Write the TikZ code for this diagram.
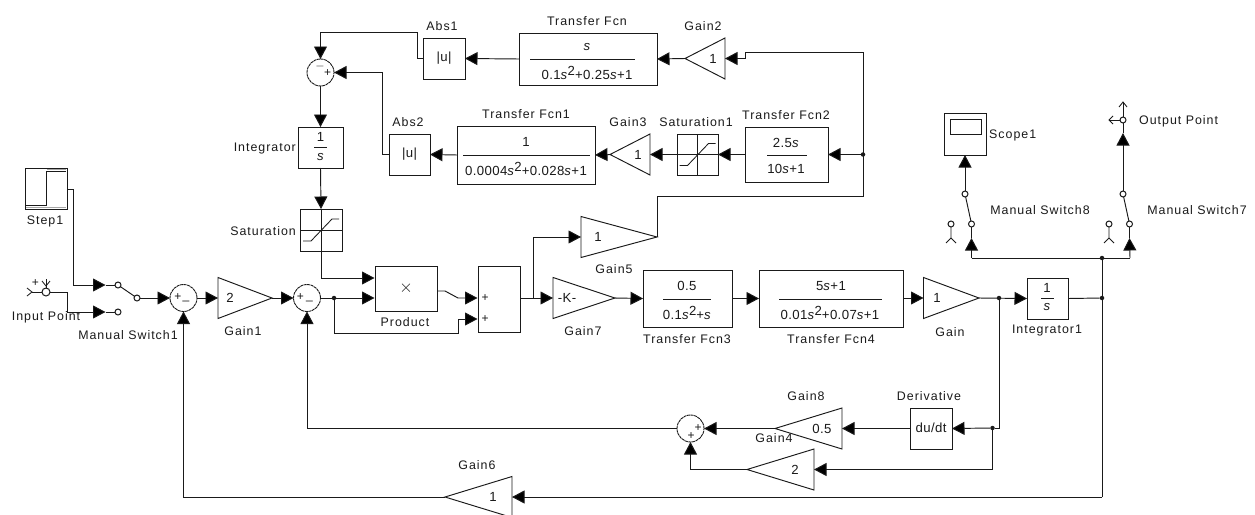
\documentclass[tikz,border=0pt]{standalone}
\usepackage{fontspec}
\setmainfont[LetterSpace=8]{Liberation Sans}
\newfontfamily\numfont[LetterSpace=3]{Liberation Sans}
\usetikzlibrary{arrows.meta}
\definecolor{ink}{HTML}{1A1A1A}
\newcommand{\sq}{\textit{s}\raisebox{3.5pt}{2}}
\newcommand{\esse}{\textit{s}}
\tikzset{
  wire/.style={draw=ink,line width=0.95pt},
  arr/.style={wire,-{Triangle[length=12.5pt,width=13pt,fill=black]}},
  edge/.style={draw=ink,line width=0.95pt,line join=miter},
  thin edge/.style={draw=ink,line width=0.85pt},
  block/.style={rectangle,edge,inner sep=0pt,outer sep=0pt,text=ink,font=\fontsize{12}{14}\selectfont},
  sumb/.style={circle,draw=ink,line width=0.9pt,dash pattern=on 3pt off 0.6pt,inner sep=0pt,outer sep=0pt,minimum size=27pt},
  port/.style={circle,draw=ink,line width=1pt,inner sep=0pt,outer sep=0pt,minimum size=6pt,fill=white},
  junction/.style={circle,fill=ink,inner sep=0pt,minimum size=4.5pt},
  lbl/.style={inner sep=0pt,text=ink,font=\fontsize{12.4}{14}\selectfont},
  num/.style={inner sep=0pt,text=ink,font=\numfont\fontsize{13.2}{14}\selectfont},
  sign/.style={inner sep=0pt,text=ink,font=\fontsize{12}{12}\selectfont},
}
% name, apex x, y, back x, half height, text x, text
\newcommand{\gainshape}[7]{%
  \draw[edge] (#2,#3) -- ({#4},{#3-#5}) -- ({#4},{#3+#5}) -- cycle;
  \coordinate (#1-a) at (#2,#3);
  \coordinate (#1-b) at (#4,#3);
  \node[num] (#1) at (#6,#3) {#7};}
\newcommand{\satgraphic}[2]{%
  \draw[thin edge] (#1,#2-20.5) -- (#1,#2+20.5);
  \draw[thin edge] (#1-20.5,#2) -- (#1+20.5,#2);
  \draw[thin edge] (#1-18,#2+11) -- (#1-10,#2+11) -- (#1+11,#2-11) -- (#1+18,#2-11);}
\begin{document}
\begin{tikzpicture}[x=1pt,y=-1pt]
\useasboundingbox (0,0) rectangle (1255,514);
\clip (0,0) rectangle (1255,514);
\fill[white] (0,0) rectangle (1255,514);

% ---- Step source
\node[block,minimum width=42pt,minimum height=41pt] (step) at (46,188.5) {};
\draw[edge] (26,205) -- (46,205) -- (46,171) -- (66,171);
\draw[draw=gray!70,line width=0.9pt] (47,169.5) -- (66,169.5);
\draw[draw=gray!70,line width=0.9pt] (26,207.5) -- (66,207.5);
\node[lbl] (lstep) at (45,221) {Step1};

% ---- Input point
\node[port,minimum size=8pt] (inp) at (46,292) {};
\draw[thin edge] (27,288) -- (32,292) -- (27,296);
\draw[thin edge] (32,292) -- (inp);
\draw[thin edge] (46,279) -- (inp);
\draw[thin edge] (42,281) -- (46,286) -- (50,281);
\node[sign] (inpplus) at (35.5,283) {+};
\node[lbl] (linp) at (46,317) {Input Point};

% ---- Manual switch 1
\node[port] (swa) at (118,285) {};
\node[port] (swb) at (118,312) {};
\node[port] (swc) at (137,298) {};
\draw[wire] (swa) -- (swc);
\coordinate (swat) at (105.5,285);
\coordinate (swbt) at (105.5,312);
\coordinate (st1) at (73.5,189);
\coordinate (st2) at (73.5,285);
\coordinate (in1) at (67,292);
\coordinate (in2) at (67,312);
\draw[arr] (67,189) -- (st1) -- (st2) -- (swat);
\draw[wire] (swat) -- (swa);
\draw[arr] (inp) -- (in1) -- (in2) -- (swbt);
\draw[wire] (swbt) -- (swb);
\node[lbl] (lsw1) at (128,335) {Manual Switch1};

% ---- Main forward path
\node[sumb] (s1) at (183.5,298) {};
\node[sign] at (178,297) {+};
\node[sign] at (186,301) {\_};
\node[sumb] (s2) at (307,298) {};
\node[sign] at (300.5,297) {+};
\node[sign] at (309.5,301) {\_};
\gainshape{g1}{272}{298}{218}{20.5}{230}{2}
\node[lbl] (lg1) at (243,331) {Gain1};
\draw[arr] (swc) -- (s1.west);
\draw[arr] (s1.east) -- (g1-b);
\draw[arr] (g1-a) -- (s2.west);

\node[block,minimum width=62pt,minimum height=45pt] (prod) at (406,288.5) {};
\node[num,font=\fontsize{16}{16}\selectfont] (x) at (406,288) {$\times$};
\node[lbl] (lprod) at (405,322) {Product};

\node[block,minimum width=42pt,minimum height=66pt] (add) at (499,299) {};
\node[sign] at (485,298) {+};
\node[sign] at (485,319) {+};

\node[junction] (j1) at (334,298) {};
\coordinate (p1) at (374.5,298);
\coordinate (p2) at (374.5,278);
\draw[arr] (s2.east) -- (p1);
\coordinate (a2) at (477.5,298);
\coordinate (a3) at (477.5,319);
\coordinate (m1) at (445,291);
\coordinate (m2) at (458,298);
\draw[arr] (437,291) -- (m1) -- (m2) -- (a2);
\coordinate (b1) at (334,333);
\coordinate (b2) at (458,333);
\coordinate (b3) at (458,319);
\draw[arr] (j1) -- (b1) -- (b2) -- (b3) -- (a3);

\gainshape{g7}{615}{298}{553}{20.5}{567}{-K-}
\node[lbl] (lg7) at (583,331) {Gain7};
\draw[arr] (520,298) -- (g7-b);
\gainshape{g5}{657}{237}{581}{20.5}{598}{1}
\node[lbl] (lg5) at (614,269) {Gain5};
\coordinate (v1) at (533,298);
\coordinate (v2) at (533,237);
\draw[arr] (v1) -- (v2) -- (g5-b);

\node[block,minimum width=89pt,minimum height=57pt] (tf3) at (687.5,298.5) {};
\node[num] (tf3n) at (687,286) {0.5};
\node[num] (tf3d) at (687,313) {0.1\sq+\esse};
\draw[thin edge] (663,299) -- (711,299);
\node[lbl] (ltf3) at (687,339) {Transfer Fcn3};
\draw[arr] (g7-a) -- (tf3.west);

\node[block,minimum width=144pt,minimum height=57pt] (tf4) at (831,298.5) {};
\node[num] (tf4n) at (831,286) {5\esse+1};
\node[num] (tf4d) at (830,313) {0.01\sq+0.07\esse+1};
\draw[thin edge] (779,299) -- (882,299);
\node[lbl] (ltf4) at (831,339) {Transfer Fcn4};
\draw[arr] (tf3.east) -- (tf4.west);

\gainshape{g}{979}{298}{923.5}{20.5}{937}{1}
\node[lbl] (lg) at (950,332) {Gain};
\draw[arr] (903,298) -- (g-b);

\node[block,minimum width=41pt,minimum height=41pt] (int1) at (1047.5,298.5) {};
\node[num] (int1n) at (1047,288) {1};
\node[num] (int1d) at (1047,307.5) {\esse};
\draw[thin edge] (1041,298) -- (1054,298);
\node[lbl] (lint1) at (1047,331) {Integrator1};
\draw[arr] (g-a) -- (int1.west);
\node[junction] (j5) at (999,298) {};

\node[junction] (j6) at (1102,298) {};
\node[junction] (j7) at (1102,258) {};
\coordinate (fb) at (1102,497);
\draw[wire] (int1.east) -- (j6);
\draw[wire] (j7) -- (fb);

% ---- Scope and output switches
\coordinate (t8) at (971.5,258);
\coordinate (t7) at (1130,258);
\draw[wire] (t8) -- (t7);
\node[port] (sw8a) at (971.5,224) {};
\node[port] (sw8c) at (965,194) {};
\node[port] (sw8p) at (951,224) {};
\node[port] (sw7a) at (1129.5,224) {};
\node[port] (sw7c) at (1123,194) {};
\node[port] (sw7p) at (1109,224) {};
\draw[wire] (sw8a) -- (sw8c);
\draw[wire] (sw7a) -- (sw7c);
\coordinate (t8t) at (971.5,238);
\coordinate (t7t) at (1129.5,238);
\draw[arr] (t8) -- (t8t);
\draw[wire] (t8t) -- (sw8a);
\draw[arr] (t7) -- (t7t);
\draw[wire] (t7t) -- (sw7a);
\draw[thin edge] (sw8p) -- (951,238) -- (946,243);
\draw[thin edge] (951,238) -- (956,243);
\draw[thin edge] (sw7p) -- (1109,238) -- (1104,243);
\draw[thin edge] (1109,238) -- (1114,243);
\node[lbl] (lsw8) at (1040,210) {Manual Switch8};
\node[lbl] (lsw7) at (1197,210) {Manual Switch7};

\node[block,minimum width=42pt,minimum height=42pt] (scope) at (965,134) {};
\draw[edge] (950,119) rectangle (981,134);
\node[lbl,anchor=west] (lscope) at (989,135) {Scope1};
\draw[arr] (sw8c) -- (scope.south);

\node[port] (op) at (1123,120) {};
\coordinate (opt) at (1123,133);
\draw[arr] (sw7c) -- (opt);
\draw[wire] (opt) -- (op);
\draw[thin edge] (op) -- (1123,103);
\draw[thin edge] (1119,107) -- (1123,102) -- (1127,107);
\draw[thin edge] (op) -- (1109,120);
\draw[thin edge] (1113,116) -- (1109,120) -- (1113,124);
\node[lbl,anchor=west] (lop) at (1139,121) {Output Point};

% ---- Feedback path
\node[block,minimum width=42pt,minimum height=41pt] (der) at (931,428.5) {};
\node[num] at (931,428) {du/dt};
\node[lbl] (lder) at (929,396) {Derivative};
\node[junction] (j8) at (992.5,428) {};
\coordinate (d1) at (999,428);
\draw[wire] (j5) -- (d1) -- (j8);
\draw[arr] (j8) -- (der.east);
\gainshape{g8}{775}{428.5}{842}{20.5}{822}{0.5}
\node[lbl] (lg8) at (806,396) {Gain8};
\draw[arr] (der.west) -- (g8-b);
\node[sumb] (s3) at (690.5,428.5) {};
\node[sign] at (698,428) {+};
\node[sign] at (691,436) {+};
\draw[arr] (g8-a) -- (s3.east);
\gainshape{g4}{747}{469.5}{814}{20.5}{795}{2}
\node[lbl,fill=none] (lg4) at (774,438) {Gain4};
\coordinate (d2) at (992.5,469.5);
\draw[arr] (j8) -- (d2) -- (g4-b);
\coordinate (d3) at (690.5,469.5);
\draw[arr] (g4-a) -- (d3) -- (s3.south);
\coordinate (d4) at (307,428.5);
\draw[arr] (s3.west) -- (d4) -- (s2.south);

\gainshape{g6}{445}{497}{512}{20.5}{493}{1}
\node[lbl] (lg6) at (477,465) {Gain6};
\draw[arr] (fb) -- (g6-b);
\coordinate (d5) at (183.5,497);
\draw[arr] (g6-a) -- (d5) -- (s1.south);

% ---- Upper loop
\node[sumb] (s4) at (320.5,72.5) {};
\node[sign] at (320,66) {$-$};
\node[sign] at (327.5,73) {+};
\node[block,minimum width=45pt,minimum height=41pt] (int) at (320.5,147.5) {};
\node[num] (intn) at (320.5,137) {1};
\node[num] (intd) at (320.5,157) {\esse};
\draw[thin edge] (314,147) -- (327,147);
\node[lbl,anchor=east] (lint) at (296,149) {Integrator};
\node[block,minimum width=42pt,minimum height=42pt] (sat) at (321,230) {};
\satgraphic{321}{230}
\node[lbl,anchor=east] (lsat) at (296,231) {Saturation};
\draw[arr] (s4.south) -- (int.north);
\draw[arr] (int.south) -- (sat.north);
\coordinate (p3) at (321,278);
\draw[arr] (sat.south) -- (p3) -- (p2);

\node[block,minimum width=42pt,minimum height=41pt] (abs1) at (444,58.5) {};
\node[num] at (444,58) {|u|};
\node[lbl] (labs1) at (442,26) {Abs1};
\node[block,minimum width=41pt,minimum height=41pt] (abs2) at (409.5,154.5) {};
\node[num] at (409.5,154) {|u|};
\node[lbl] (labs2) at (408,122) {Abs2};
\coordinate (a1) at (417,58.5);
\coordinate (a1t) at (417,32);
\coordinate (a1u) at (320.5,32);
\draw[arr] (abs1.west) -- (a1) -- (a1t) -- (a1u) -- (s4.north);
\coordinate (a4) at (382,154.5);
\coordinate (a5) at (382,72.5);
\draw[arr] (abs2.west) -- (a4) -- (a5) -- (s4.east);

\node[block,minimum width=138pt,minimum height=52pt] (tf) at (588,59) {};
\node[num] (tfn) at (587,47) {\esse};
\node[num] (tfd) at (587,73) {0.1\sq+0.25\esse+1};
\draw[thin edge] (530,59) -- (635,59);
\node[lbl] (ltf) at (587,21) {Transfer Fcn};
\draw[arr] (tf.west) -- (abs1.east);
\gainshape{g2}{685}{58.5}{725}{20.5}{713}{1}
\node[lbl] (lg2) at (703,26) {Gain2};
\draw[arr] (g2-a) -- (tf.east);

\node[block,minimum width=138pt,minimum height=58pt] (tf1) at (526,155) {};
\node[num] (tf1n) at (526,142) {1};
\node[num] (tf1d) at (526,169) {0.0004\sq+0.028\esse+1};
\draw[thin edge] (463,155) -- (590,155);
\node[lbl] (ltf1) at (526,114) {Transfer Fcn1};
\draw[arr] (tf1.west) -- (abs2.east);
\gainshape{g3}{610}{154.5}{650}{20.5}{638}{1}
\node[lbl] (lg3) at (628,122) {Gain3};
\draw[arr] (g3-a) -- (tf1.east);
\node[block,minimum width=41pt,minimum height=41pt] (sat1) at (697.5,154.5) {};
\satgraphic{697.5}{154.5}
\node[lbl] (lsat1) at (696,122) {Saturation1};
\draw[arr] (sat1.west) -- (g3-b);
\node[block,minimum width=83pt,minimum height=55pt] (tf2) at (786.5,154.5) {};
\node[num] (tf2n) at (786,143) {2.5\esse};
\node[num] (tf2d) at (786,169) {10\esse+1};
\draw[thin edge] (767,155) -- (807,155);
\node[lbl] (ltf2) at (786,115) {Transfer Fcn2};
\draw[arr] (tf2.west) -- (sat1.east);
\node[junction] (j9) at (863,154.5) {};
\draw[arr] (j9) -- (tf2.east);

\coordinate (r1) at (657,196);
\coordinate (r2) at (863,196);
\coordinate (r3) at (863,52);
\coordinate (r4) at (745,52);
\coordinate (r5) at (745,58.5);
\draw[arr] (g5-a) -- (r1) -- (r2) -- (r3) -- (r4) -- (r5) -- (g2-b);
\end{tikzpicture}
\end{document}
